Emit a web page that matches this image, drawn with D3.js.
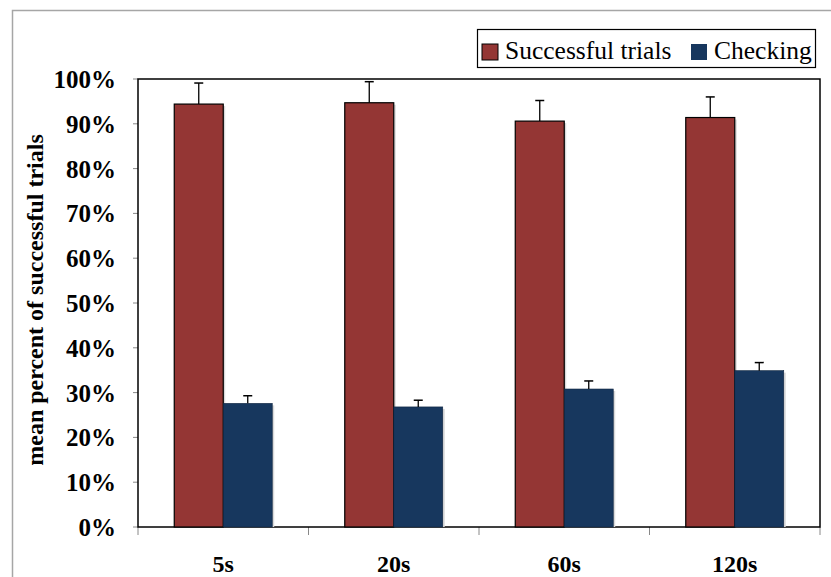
<!DOCTYPE html>
<html lang="en">
<head>
  <meta charset="UTF-8">
  <title>Successful trials and checking</title>
  <style>
    body { margin: 0; background: #fff; }
  </style>
</head>
<body>
  <svg id="chart"></svg>

  <script src="https://d3js.org/d3.v7.min.js"></script>
  <script>
    const categories = ["5s", "20s", "60s", "120s"];
    const seriesNames = ["Successful trials", "Checking"];
    const successful = [94.4, 94.7, 90.6, 91.4];
    const successfulErr = [4.7, 4.7, 4.6, 4.6];
    const checking = [27.6, 26.8, 30.8, 34.9];
    const checkingErr = [1.7, 1.5, 1.8, 1.8];
    const yTicks = [0, 10, 20, 30, 40, 50, 60, 70, 80, 90, 100];
    const colors = ["#943634", "#17375e"];

    const width = 831, height = 577;
    const plotLeft = 138, plotRight = 820, plotTop = 79, plotBottom = 527;
    const serif = "'Liberation Serif', 'Times New Roman', Times, serif";

    const svg = d3.select("#chart")
      .attr("width", width)
      .attr("height", height)
      .style("font-family", serif);

    // outer chart frame (cut off at the right and bottom)
    svg.append("rect")
      .attr("x", 12.5).attr("y", 10.5)
      .attr("width", 840).attr("height", 600)
      .attr("fill", "none")
      .attr("stroke", "#a6a6a6")
      .attr("stroke-width", 1.5);

    const x0 = d3.scaleBand()
      .domain(categories)
      .range([plotLeft, plotRight]);

    const x1 = d3.scaleBand()
      .domain(seriesNames)
      .range([0, x0.bandwidth()])
      .paddingOuter(0.74);

    const y = d3.scaleLinear()
      .domain([0, 100])
      .range([plotBottom, plotTop]);

    // y ticks and labels
    svg.append("g")
      .selectAll("line")
      .data(yTicks)
      .join("line")
      .attr("x1", plotLeft - 5).attr("x2", plotLeft)
      .attr("y1", d => y(d)).attr("y2", d => y(d))
      .attr("stroke", "#888");

    svg.append("g")
      .selectAll("text")
      .data(yTicks)
      .join("text")
      .style("font-family", serif)
      .style("font-size", "25px")
      .style("font-weight", "bold")
      .attr("x", 116)
      .attr("y", d => y(d) + 9)
      .attr("text-anchor", "end")
      .text(d => d + "%");

    // x ticks at band edges
    const xEdges = categories.map(c => x0(c)).concat([plotRight]);
    svg.append("g")
      .selectAll("line")
      .data(xEdges)
      .join("line")
      .attr("x1", d => d).attr("x2", d => d)
      .attr("y1", plotBottom).attr("y2", plotBottom + 8)
      .attr("stroke", "#888");

    svg.append("g")
      .selectAll("text")
      .data(categories)
      .join("text")
      .style("font-family", serif)
      .style("font-size", "24px")
      .style("font-weight", "bold")
      .attr("x", d => x0(d) + x0.bandwidth() / 2)
      .attr("y", 572)
      .attr("text-anchor", "middle")
      .text(d => d);

    // plot area border
    svg.append("rect")
      .attr("x", plotLeft).attr("y", plotTop)
      .attr("width", plotRight - plotLeft).attr("height", plotBottom - plotTop)
      .attr("fill", "none")
      .attr("stroke", "#000")
      .attr("stroke-width", 1.5);

    const rows = categories.map((c, i) => ({
      cat: c,
      values: [
        { name: seriesNames[0], v: successful[i], e: successfulErr[i], k: 0 },
        { name: seriesNames[1], v: checking[i], e: checkingErr[i], k: 1 }
      ]
    }));

    const groups = svg.append("g")
      .selectAll("g")
      .data(rows)
      .join("g")
      .attr("transform", d => `translate(${x0(d.cat)},0)`);

    // soft shadow to the right of each bar
    groups.selectAll("rect.shadow")
      .data(d => d.values)
      .join("rect")
      .attr("class", "shadow")
      .attr("x", d => x1(d.name) + 2)
      .attr("y", d => y(d.v) + 2)
      .attr("width", x1.bandwidth())
      .attr("height", d => plotBottom - y(d.v) - 2)
      .attr("fill", "#d9d9d9");

    groups.selectAll("rect.bar")
      .data(d => d.values)
      .join("rect")
      .attr("class", "bar")
      .attr("x", d => x1(d.name))
      .attr("y", d => y(d.v))
      .attr("width", x1.bandwidth())
      .attr("height", d => plotBottom - y(d.v))
      .attr("fill", d => colors[d.k])
      .attr("stroke", d => d.k === 0 ? "#000" : "#0f2540")
      .attr("stroke-width", d => d.k === 0 ? 1.2 : 0.6);

    // upper error bars
    const errs = groups.selectAll("g.err")
      .data(d => d.values)
      .join("g")
      .attr("class", "err");

    errs.append("line")
      .attr("x1", d => x1(d.name) + x1.bandwidth() / 2)
      .attr("x2", d => x1(d.name) + x1.bandwidth() / 2)
      .attr("y1", d => y(d.v))
      .attr("y2", d => y(d.v + d.e))
      .attr("stroke", "#000")
      .attr("stroke-width", 1.3);

    errs.append("line")
      .attr("x1", d => x1(d.name) + x1.bandwidth() / 2 - 4.5)
      .attr("x2", d => x1(d.name) + x1.bandwidth() / 2 + 4.5)
      .attr("y1", d => y(d.v + d.e))
      .attr("y2", d => y(d.v + d.e))
      .attr("stroke", "#000")
      .attr("stroke-width", 1.5);

    // y axis title
    svg.append("text")
      .attr("transform", "translate(43,300) rotate(-90)")
      .attr("text-anchor", "middle")
      .style("font-family", serif)
      .style("font-size", "24px")
      .style("font-weight", "bold")
      .text("mean percent of successful trials");

    // legend
    const legend = svg.append("g");
    legend.append("rect")
      .attr("x", 477.5).attr("y", 29.5)
      .attr("width", 338).attr("height", 38)
      .attr("fill", "#fff")
      .attr("stroke", "#000")
      .attr("stroke-width", 1.2);

    const legendX = [482, 691];
    seriesNames.forEach((name, i) => {
      legend.append("rect")
        .attr("x", legendX[i]).attr("y", 44)
        .attr("width", 16).attr("height", 16)
        .attr("fill", colors[i])
        .attr("stroke", i === 0 ? "#000" : "none")
        .attr("stroke-width", 1);
      legend.append("text")
        .style("font-family", serif)
        .style("font-size", "25.5px")
        .attr("x", legendX[i] + 23)
        .attr("y", 59)
        .text(name);
    });
  </script>
</body>
</html>
